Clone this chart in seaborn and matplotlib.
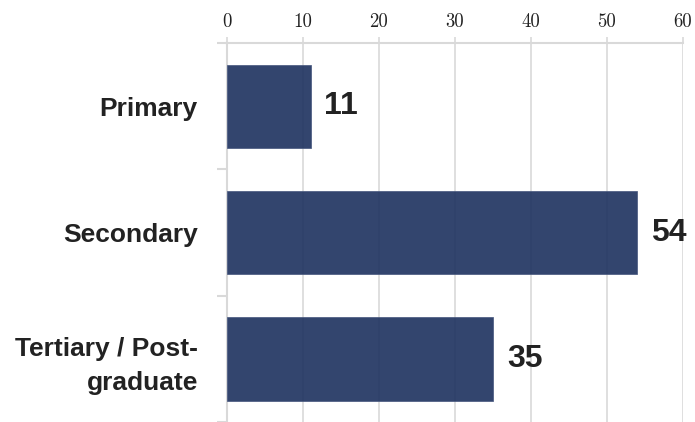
import matplotlib
matplotlib.use("Agg")
import matplotlib.pyplot as plt
import pandas as pd
import seaborn as sns

categories = ["Primary", "Secondary", "Tertiary / Post-\ngraduate"]
values = [11, 54, 35]
x_ticks = [0, 10, 20, 30, 40, 50, 60]

BAR_COLOR = "#1d315e"
GRID_COLOR = "#d9d9d9"
TEXT_COLOR = "#222222"

sns.set_theme(style="white")
plt.rcParams["font.family"] = ["Liberation Sans Narrow", "Liberation Sans", "DejaVu Sans"]

df = pd.DataFrame({"category": categories, "value": values})

fig = plt.figure(figsize=(6.95, 4.22), dpi=100)
ax = fig.add_axes([0.3266, 0.0, 0.6561, 0.898])

sns.barplot(
    data=df,
    x="value",
    y="category",
    orient="h",
    color=BAR_COLOR,
    saturation=1,
    alpha=0.9,
    width=0.66,
    edgecolor="#4a5a80",
    linewidth=0.6,
    ax=ax,
    zorder=3,
)

ax.set_xlim(0, 60)
ax.set_ylim(2.46, -0.5)
ax.set_xlabel("")
ax.set_ylabel("")

ax.xaxis.tick_top()
ax.set_xticks(x_ticks)
ax.set_xticklabels([str(t) for t in x_ticks], fontfamily="cmr10", fontsize=13.5, color=TEXT_COLOR)
ax.tick_params(axis="x", which="major", direction="out", length=4, width=1.2,
               color=GRID_COLOR, pad=5, top=True, bottom=False)

# category labels at centres, tick marks at group boundaries
ax.set_yticks([0, 1, 2])
ax.set_yticklabels(categories, fontsize=19, fontweight="bold", color=TEXT_COLOR,
                   linespacing=1.5)
ax.tick_params(axis="y", which="major", length=0, pad=21)
ax.set_yticks([-0.5, 0.5, 1.5, 2.5], minor=True)
ax.tick_params(axis="y", which="minor", direction="out", length=7, width=1.5,
               color=GRID_COLOR, left=True)

ax.grid(axis="x", color=GRID_COLOR, linewidth=1.2, zorder=0)
ax.set_axisbelow(True)

for side in ["right", "bottom"]:
    ax.spines[side].set_visible(False)
for side in ["top", "left"]:
    ax.spines[side].set_color(GRID_COLOR)
    ax.spines[side].set_linewidth(1.5)

for cont in ax.containers:
    ax.bar_label(cont, labels=[str(v) for v in values], padding=10,
                 fontsize=23, fontweight="bold", color=TEXT_COLOR)

fig.savefig("out.png", dpi=100)
